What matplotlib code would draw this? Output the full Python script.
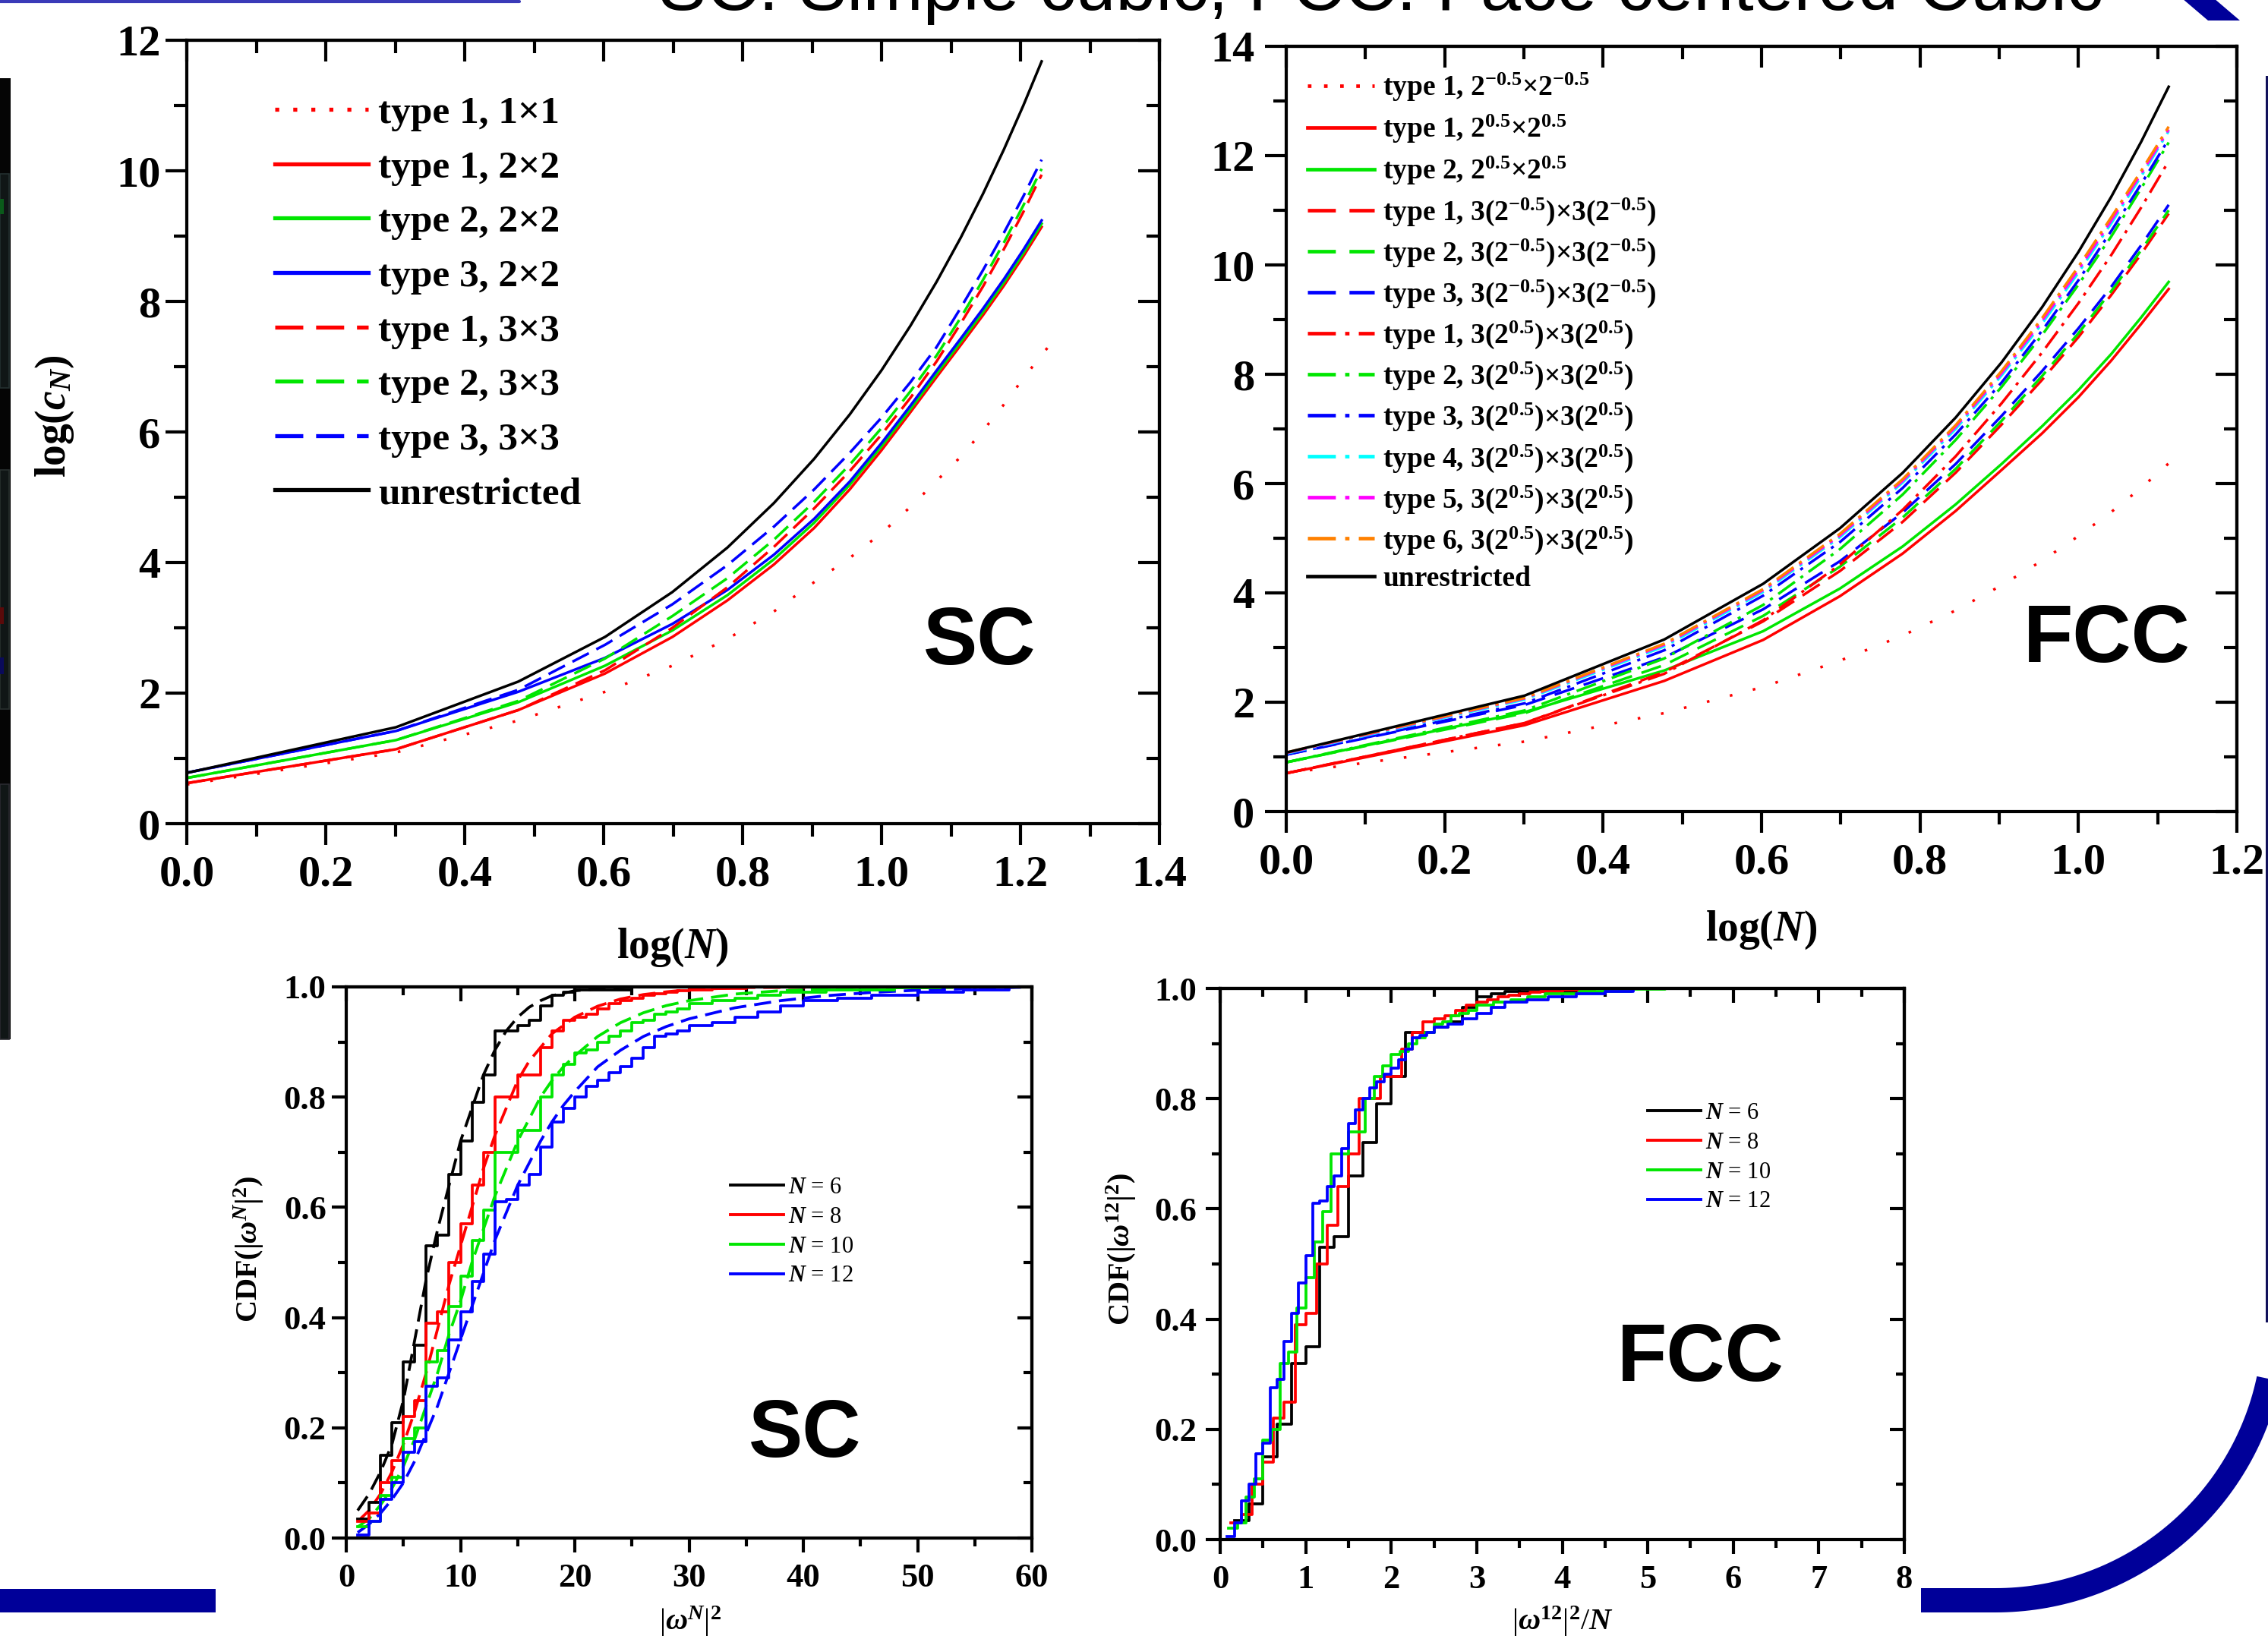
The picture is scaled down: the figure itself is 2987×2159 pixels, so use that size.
import numpy as np
import matplotlib
matplotlib.use("Agg")
import matplotlib.pyplot as plt
from matplotlib.ticker import MultipleLocator, FormatStrFormatter, NullFormatter
from matplotlib.lines import Line2D
from matplotlib.patches import Rectangle, Polygon

# ---------------- data ----------------
# SC: log(c_N) vs log(N)
sc_N = list(range(1, 18))
sc_N_1x1 = list(range(1, 19))
sc_unrestricted = [0.778, 1.477, 2.176, 2.861, 3.548, 4.229, 4.911, 5.589, 6.268, 6.945,
                   7.623, 8.299, 8.975, 9.650, 10.326, 11.001, 11.676]
sc_t1_1x1 = [0.60, 1.09, 1.58, 2.02, 2.42, 2.83, 3.25, 3.70, 4.07, 4.45, 4.85, 5.25, 5.62,
             6.02, 6.42, 6.82, 7.18, 7.50]
sc_t1_2x2 = [0.62, 1.14, 1.74, 2.30, 2.86, 3.42, 3.97, 4.53, 5.12, 5.72, 6.30, 6.84, 7.33,
             7.79, 8.24, 8.69, 9.14]
sc_t2_2x2 = [0.70, 1.28, 1.86, 2.42, 2.96, 3.50, 4.05, 4.61, 5.19, 5.78, 6.35, 6.89, 7.38,
             7.84, 8.29, 8.74, 9.19]
sc_t3_2x2 = [0.78, 1.42, 2.02, 2.54, 3.06, 3.58, 4.12, 4.67, 5.24, 5.83, 6.40, 6.94, 7.43,
             7.89, 8.34, 8.79, 9.24]
sc_t1_3x3 = [0.62, 1.14, 1.74, 2.35, 3.00, 3.62, 4.24, 4.83, 5.40, 5.96, 6.52, 7.08, 7.66,
             8.23, 8.80, 9.37, 9.94]
sc_t2_3x3 = [0.70, 1.28, 1.88, 2.53, 3.18, 3.76, 4.35, 4.93, 5.50, 6.06, 6.62, 7.17, 7.75,
             8.33, 8.90, 9.47, 10.03]
sc_t3_3x3 = [0.78, 1.42, 2.05, 2.74, 3.36, 3.96, 4.55, 5.12, 5.68, 6.22, 6.76, 7.30, 7.90,
             8.48, 9.05, 9.61, 10.17]

# FCC: log(c_N) vs log(N)
fcc_N = list(range(1, 14))
fcc_unrestricted = [1.079, 2.121, 3.147, 4.167, 5.183, 6.197, 7.209, 8.219, 9.229, 10.238,
                    11.246, 12.253, 13.260]
fcc_t1_small = [0.70, 1.28, 1.80, 2.28, 2.76, 3.22, 3.68, 4.14, 4.59, 5.04, 5.48, 5.92, 6.37]
fcc_t1_1 = [0.70, 1.58, 2.39, 3.14, 3.94, 4.72, 5.50, 6.25, 6.92, 7.58, 8.25, 8.92, 9.56]
fcc_t2_1 = [0.90, 1.82, 2.58, 3.30, 4.08, 4.85, 5.62, 6.36, 7.05, 7.71, 8.37, 9.04, 9.69]
fcc_t1_3m = [0.70, 1.62, 2.55, 3.48, 4.40, 5.30, 6.20, 7.08, 7.90, 8.68, 9.45, 10.20, 10.94]
fcc_t2_3m = [0.90, 1.80, 2.68, 3.58, 4.48, 5.38, 6.27, 7.15, 7.97, 8.75, 9.52, 10.27, 11.00]
fcc_t3_3m = [1.04, 1.95, 2.82, 3.70, 4.58, 5.47, 6.36, 7.24, 8.06, 8.84, 9.60, 10.36, 11.10]
fcc_t1_3p = [0.70, 1.62, 2.52, 3.50, 4.52, 5.52, 6.50, 7.47, 8.40, 9.30, 10.18, 11.05, 11.90]
fcc_t2_3p = [0.90, 1.85, 2.80, 3.78, 4.80, 5.80, 6.80, 7.77, 8.72, 9.64, 10.52, 11.40, 12.24]
fcc_t3_3p = [1.04, 1.98, 2.95, 3.95, 4.93, 5.92, 6.90, 7.85, 8.80, 9.72, 10.62, 11.48, 12.30]
fcc_t4_3p = [1.06, 2.05, 3.02, 4.02, 5.02, 6.02, 7.00, 7.98, 8.93, 9.86, 10.76, 11.62, 12.45]
fcc_t5_3p = [1.07, 2.07, 3.05, 4.05, 5.05, 6.05, 7.04, 8.02, 8.98, 9.91, 10.81, 11.67, 12.48]
fcc_t6_3p = [1.08, 2.08, 3.07, 4.07, 5.08, 6.08, 7.07, 8.06, 9.03, 9.97, 10.87, 11.72, 12.53]

# CDF of |omega^N|^2 (empirical, step) for N = 6, 8, 10, 12
cdf_x_N6 = list(range(1, 21)) + [25]
cdf_y_N6 = [0.035, 0.065, 0.15, 0.21, 0.32, 0.35, 0.53, 0.55, 0.66, 0.72, 0.79, 0.84, 0.92,
            0.92, 0.93, 0.94, 0.965, 0.985, 0.99, 0.995, 1.0]
cdf_x_N8 = list(range(1, 31)) + [32, 35]
cdf_y_N8 = [0.03, 0.045, 0.10, 0.14, 0.22, 0.25, 0.39, 0.41, 0.50, 0.57, 0.64, 0.70, 0.80,
            0.80, 0.84, 0.84, 0.89, 0.92, 0.94, 0.945, 0.95, 0.96, 0.97, 0.975, 0.98, 0.985,
            0.988, 0.99, 0.993, 0.995, 0.997, 1.0]
cdf_x_N10 = list(range(1, 31)) + [32, 34, 36, 38, 42, 48, 52]
cdf_y_N10 = [0.02, 0.03, 0.077, 0.11, 0.18, 0.20, 0.32, 0.34, 0.42, 0.475, 0.54, 0.595, 0.70,
             0.70, 0.74, 0.74, 0.80, 0.84, 0.86, 0.88, 0.885, 0.90, 0.91, 0.92, 0.935, 0.94,
             0.95, 0.955, 0.96, 0.97, 0.975, 0.98, 0.985, 0.99, 0.995, 0.998, 1.0]
cdf_x_N12 = list(range(1, 31)) + [32, 34, 36, 38, 40, 43, 46, 50, 54, 58]
cdf_y_N12 = [0.005, 0.03, 0.07, 0.10, 0.155, 0.175, 0.275, 0.29, 0.36, 0.41, 0.465, 0.515,
             0.61, 0.615, 0.64, 0.66, 0.71, 0.755, 0.78, 0.80, 0.82, 0.83, 0.845, 0.855, 0.87,
             0.89, 0.91, 0.915, 0.92, 0.93, 0.935, 0.945, 0.955, 0.965, 0.975, 0.98, 0.985,
             0.99, 0.995, 1.0]

# smooth fitted CDFs (dashed) in SC panel
fit_x_N6 = [1, 2, 3, 4, 5, 6, 7, 8, 9, 10, 11, 12, 13, 14, 15, 16, 17, 18, 20, 23, 26, 60]
fit_y_N6 = [0.05, 0.08, 0.12, 0.17, 0.25, 0.36, 0.47, 0.56, 0.64, 0.72, 0.78, 0.84, 0.885,
            0.92, 0.945, 0.963, 0.975, 0.984, 0.993, 0.998, 1.0, 1.0]
fit_x_N8 = [1, 2, 3, 4, 5, 6, 7, 8, 9, 10, 11, 12, 13, 14, 15, 16, 17, 18, 19, 20, 22, 24,
            26, 28, 30, 35, 60]
fit_y_N8 = [0.03, 0.05, 0.08, 0.12, 0.17, 0.23, 0.30, 0.38, 0.46, 0.53, 0.60, 0.67, 0.73,
            0.78, 0.83, 0.865, 0.89, 0.915, 0.93, 0.945, 0.965, 0.978, 0.986, 0.991, 0.995,
            0.999, 1.0]
fit_x_N10 = [1, 2, 3, 4, 5, 6, 7, 8, 9, 10, 11, 12, 13, 14, 15, 16, 17, 18, 19, 20, 22, 24,
             26, 28, 30, 34, 38, 45, 60]
fit_y_N10 = [0.02, 0.035, 0.06, 0.09, 0.13, 0.18, 0.24, 0.30, 0.37, 0.43, 0.50, 0.56, 0.62,
             0.67, 0.72, 0.76, 0.80, 0.83, 0.855, 0.875, 0.91, 0.935, 0.953, 0.966, 0.975,
             0.987, 0.993, 0.998, 1.0]
fit_x_N12 = [1, 2, 3, 4, 5, 6, 7, 8, 9, 10, 11, 12, 13, 14, 15, 16, 17, 18, 19, 20, 22, 24,
             26, 28, 30, 34, 38, 42, 46, 50, 55, 60]
fit_y_N12 = [0.01, 0.025, 0.045, 0.07, 0.10, 0.14, 0.19, 0.24, 0.30, 0.36, 0.42, 0.48, 0.54,
             0.59, 0.64, 0.68, 0.72, 0.755, 0.785, 0.81, 0.855, 0.885, 0.91, 0.928, 0.942,
             0.962, 0.975, 0.984, 0.99, 0.994, 0.997, 1.0]

N_values = [6, 8, 10, 12]
title_text = "SC: Simple cubic, FCC: Face centered Cubic"

# ---------------- style ----------------
W, H = 2987, 2159
plt.rcParams.update({
    "font.family": ["Liberation Serif", "DejaVu Serif"],
    "font.weight": "bold",
    "mathtext.fontset": "custom",
    "mathtext.rm": "Liberation Serif",
    "mathtext.it": "Liberation Serif:italic",
    "mathtext.bf": "Liberation Serif:bold",
})
if "mathtext.bfit" in plt.rcParams:
    plt.rcParams["mathtext.bfit"] = "Liberation Serif:italic:bold"
BFIT = r"\mathbfit" if "mathtext.bfit" in plt.rcParams else r"\mathit"

RED, GREEN, BLUE = "#ff0000", "#00e600", "#0000ff"
CYAN, MAGENTA, ORANGE = "#00ffff", "#ff00ff", "#ff8000"
NAVY = "#000099"

fig = plt.figure(figsize=(W / 100, H / 100), dpi=100)


def box(l, t, r, b):
    return [l / W, 1 - b / H, (r - l) / W, (b - t) / H]


def fx(px):
    return px / W


def fy(py):
    return 1 - py / H


def setup(ax, xlim, ylim, xmaj, xmin, ymaj, ymin, L, l, w, spw, size, xpad, ypad, xfmt, yfmt):
    ax.set_xlim(*xlim)
    ax.set_ylim(*ylim)
    ax.xaxis.set_major_locator(MultipleLocator(xmaj))
    ax.xaxis.set_minor_locator(MultipleLocator(xmin))
    ax.yaxis.set_major_locator(MultipleLocator(ymaj))
    ax.yaxis.set_minor_locator(MultipleLocator(ymin))
    ax.xaxis.set_major_formatter(FormatStrFormatter(xfmt))
    ax.yaxis.set_major_formatter(FormatStrFormatter(yfmt))
    ax.tick_params(which="major", direction="out", length=L, width=w, labelsize=size,
                   top=False, right=False)
    ax.tick_params(which="minor", direction="out", length=l, width=w, top=False, right=False)
    ax.tick_params(axis="x", which="major", pad=xpad)
    ax.tick_params(axis="y", which="major", pad=ypad)
    for s in ax.spines.values():
        s.set_linewidth(spw)
    sx = ax.secondary_xaxis("top")
    sx.xaxis.set_major_locator(MultipleLocator(xmaj))
    sx.xaxis.set_minor_locator(MultipleLocator(xmin))
    sx.xaxis.set_major_formatter(NullFormatter())
    sx.tick_params(which="major", direction="in", length=L, width=w)
    sx.tick_params(which="minor", direction="in", length=l, width=w)
    sx.spines["top"].set_linewidth(spw)
    sy = ax.secondary_yaxis("right")
    sy.yaxis.set_major_locator(MultipleLocator(ymaj))
    sy.yaxis.set_minor_locator(MultipleLocator(ymin))
    sy.yaxis.set_major_formatter(NullFormatter())
    sy.tick_params(which="major", direction="in", length=L, width=w)
    sy.tick_params(which="minor", direction="in", length=l, width=w)
    sy.spines["right"].set_linewidth(spw)


# ---------------- panel 1: SC log(c_N) ----------------
ax1 = fig.add_axes(box(246, 53, 1527, 1085))
lw1 = 2.5
dash1 = (0, (7.0, 3.2))
dot1 = (0, (1.0, 8.0))
x_sc = np.log10(sc_N)
x_sc1 = np.log10(sc_N_1x1)
sc_series = [
    (x_sc1, sc_t1_1x1, RED, dot1, "type 1, 1×1"),
    (x_sc, sc_t1_2x2, RED, "-", "type 1, 2×2"),
    (x_sc, sc_t2_2x2, GREEN, "-", "type 2, 2×2"),
    (x_sc, sc_t3_2x2, BLUE, "-", "type 3, 2×2"),
    (x_sc, sc_t1_3x3, RED, dash1, "type 1, 3×3"),
    (x_sc, sc_t2_3x3, GREEN, dash1, "type 2, 3×3"),
    (x_sc, sc_t3_3x3, BLUE, dash1, "type 3, 3×3"),
    (x_sc, sc_unrestricted, "black", "-", "unrestricted"),
]
h1 = []
for xv, yv, c, ls, lab in sc_series:
    ax1.plot(xv, yv, color=c, lw=lw1, linestyle=ls, label=lab)
    h1.append(Line2D([], [], color=c, lw=3.8, linestyle=ls if ls != dot1 else (0, (1.0, 3.5))))
setup(ax1, (0, 1.4), (0, 12), 0.2, 0.1, 2, 1, 20, 12, 3, 3, 42, 10, 5, "%.1f", "%d")
ax1.legend(h1, [s[4] for s in sc_series], loc="upper left",
           bbox_to_anchor=(fx(362), fy(126)), bbox_transform=fig.transFigure,
           frameon=False, fontsize=37, handlelength=2.4, handletextpad=0.25,
           labelspacing=0.48, borderpad=0, borderaxespad=0)
fig.text(fx(72), fy(548), r"log($" + BFIT + r"{c}_{N}$)", rotation=90, fontsize=40,
         ha="center", va="center")
fig.text(fx(886), fy(1248), r"log($" + BFIT + r"{N}$)", fontsize=40, ha="center", va="center")

# ---------------- panel 2: FCC log(c_N) ----------------
ax2 = fig.add_axes(box(1694, 61, 2946, 1069))
x_f = np.log10(fcc_N)
dash2 = (0, (7.8, 3.8))
dd2 = (0, (7.8, 2.6, 1.2, 2.6))
m = lambda e: r"$\mathbf{2}^{\mathbf{" + e + r"}}$"
fcc_series = [
    (fcc_t1_small, RED, dot1, "type 1, " + m("-0.5") + "×" + m("-0.5")),
    (fcc_t1_1, RED, "-", "type 1, " + m("0.5") + "×" + m("0.5")),
    (fcc_t2_1, GREEN, "-", "type 2, " + m("0.5") + "×" + m("0.5")),
    (fcc_t1_3m, RED, dash2, "type 1, 3(" + m("-0.5") + ")×3(" + m("-0.5") + ")"),
    (fcc_t2_3m, GREEN, dash2, "type 2, 3(" + m("-0.5") + ")×3(" + m("-0.5") + ")"),
    (fcc_t3_3m, BLUE, dash2, "type 3, 3(" + m("-0.5") + ")×3(" + m("-0.5") + ")"),
    (fcc_t1_3p, RED, dd2, "type 1, 3(" + m("0.5") + ")×3(" + m("0.5") + ")"),
    (fcc_t2_3p, GREEN, dd2, "type 2, 3(" + m("0.5") + ")×3(" + m("0.5") + ")"),
    (fcc_t3_3p, BLUE, dd2, "type 3, 3(" + m("0.5") + ")×3(" + m("0.5") + ")"),
    (fcc_t4_3p, CYAN, dd2, "type 4, 3(" + m("0.5") + ")×3(" + m("0.5") + ")"),
    (fcc_t5_3p, MAGENTA, dd2, "type 5, 3(" + m("0.5") + ")×3(" + m("0.5") + ")"),
    (fcc_t6_3p, ORANGE, dd2, "type 6, 3(" + m("0.5") + ")×3(" + m("0.5") + ")"),
    (fcc_unrestricted, "black", "-", "unrestricted"),
]
h2 = []
for yv, c, ls, lab in fcc_series:
    ax2.plot(x_f, yv, color=c, lw=lw1, linestyle=ls)
    h2.append(Line2D([], [], color=c, lw=3.4, linestyle=ls if ls != dot1 else (0, (1.0, 3.5))))
setup(ax2, (0, 1.2), (0, 14), 0.2, 0.1, 2, 1, 20, 12, 3, 3, 42, 10, 10, "%.1f", "%d")
ax2.legend(h2, [s[3] for s in fcc_series], loc="upper left",
           bbox_to_anchor=(fx(1722), fy(94)), bbox_transform=fig.transFigure,
           frameon=False, fontsize=27, handlelength=2.35, handletextpad=0.3,
           labelspacing=0.34, borderpad=0, borderaxespad=0)
fig.text(fx(2320), fy(1225), r"log($" + BFIT + r"{N}$)", fontsize=40, ha="center", va="center")

# ---------------- panel 3: SC CDF ----------------
ax3 = fig.add_axes(box(456, 1300, 1359, 2026))
cols = ["black", RED, GREEN, BLUE]
steps = [(cdf_x_N6, cdf_y_N6), (cdf_x_N8, cdf_y_N8), (cdf_x_N10, cdf_y_N10),
         (cdf_x_N12, cdf_y_N12)]
fits = [(fit_x_N6, fit_y_N6), (fit_x_N8, fit_y_N8), (fit_x_N10, fit_y_N10),
        (fit_x_N12, fit_y_N12)]
dash3 = (0, (6.0, 2.8))
for (xf, yf), c in zip(fits, cols):
    ax3.plot(xf, yf, color=c, lw=2.7, linestyle=dash3)
for (xs, ys), c in zip(steps, cols):
    ax3.step(list(xs) + [60], list(ys) + [1.0], where="post", color=c, lw=2.7)
setup(ax3, (0, 60), (0, 1.0), 10, 5, 0.2, 0.1, 14, 8, 3, 3, 32, 10, 5, "%d", "%.1f")
h3 = [Line2D([], [], color=c, lw=2.8) for c in cols]
lab3 = [r"$N$ = %d" % n for n in N_values]
ax3.legend(h3, lab3, loc="upper left", bbox_to_anchor=(fx(962), fy(1550)),
           bbox_transform=fig.transFigure, frameon=False,
           prop={"size": 22, "weight": "normal"}, handlelength=2.3, handletextpad=0.2,
           labelspacing=0.32, borderpad=0, borderaxespad=0)
fig.text(fx(328), fy(1645), r"CDF(|$" + BFIT + r"{\omega}^{N}$|$^{2}$)", rotation=90,
         fontsize=29, ha="center", va="center")
fig.text(fx(909), fy(2114), r"|$" + BFIT + r"{\omega}^{N}$|$^{2}$", fontsize=29,
         weight="normal", ha="center", va="top")

# ---------------- panel 4: FCC CDF ----------------
ax4 = fig.add_axes(box(1607, 1302, 2508, 2028))
for (xs, ys), c, n in zip(steps, cols, N_values):
    xx = np.array(list(xs) + [60], dtype=float) / n
    ax4.step(xx, list(ys) + [1.0], where="post", color=c, lw=2.7)
setup(ax4, (0, 8), (0, 1.0), 1, 0.5, 0.2, 0.1, 14, 8, 3, 3, 32, 10, 8, "%d", "%.1f")
ax4.legend(h3, lab3, loc="upper left", bbox_to_anchor=(fx(2170), fy(1452)),
           bbox_transform=fig.transFigure, frameon=False,
           prop={"size": 22, "weight": "normal"}, handlelength=2.3, handletextpad=0.2,
           labelspacing=0.32, borderpad=0, borderaxespad=0)
fig.text(fx(1477), fy(1645), r"CDF(|$" + BFIT + r"{\omega}^{12}$|$^{2}$)", rotation=90,
         fontsize=29, ha="center", va="center")
fig.text(fx(2058), fy(2114), r"|$" + BFIT + r"{\omega}^{12}$|$^{2}$/$N$", fontsize=29,
         weight="normal", ha="center", va="top")

# big panel tags
for (cx, by, s) in [(1290, 875, "SC"), (2775, 872, "FCC"), (1060, 1919, "SC"),
                    (2240, 1819, "FCC")]:
    fig.text(fx(cx), fy(by), s, fontsize=77, family="Liberation Sans", weight="bold",
             ha="center", va="baseline")

# ---------------- slide decorations ----------------
deco = fig.add_axes([0, 0, 1, 1], zorder=20)
deco.set_xlim(0, W)
deco.set_ylim(H, 0)
deco.axis("off")
deco.patch.set_visible(False)
# top-left thin blue rule
deco.plot([0, 684], [1.5, 1.5], color="#3a3ab8", lw=3.0, solid_capstyle="round")
# bottom-left navy bar
deco.add_patch(Rectangle((0, 2093), 284, 31, color=NAVY, lw=0))
# right frame with rounded bottom corner
cxc, cyc, rr = 2628, 1740, 368
th = np.linspace(np.pi / 2, 0, 80)
fx_pts = [2530] + list(cxc + rr * np.cos(th))
fy_pts = [cyc + rr] + list(cyc + rr * np.sin(th))
deco.plot(fx_pts, fy_pts, color=NAVY, lw=32 * 0.72, solid_capstyle="butt")
# visible inner edge of the right vertical frame band
deco.add_patch(Rectangle((2983.5, 100), 4, cyc - 100 + 2, color="#10105a", lw=0))
# top-right fragment
deco.add_patch(Polygon([(2874, -2), (2916, -2), (2950, 27), (2908, 27)], closed=True,
                       color=NAVY, lw=0))
# left dark image strip
deco.add_patch(Rectangle((0, 103), 14, 1266, color="#050505", lw=0))
for (y0, hh, ec) in [(229, 282, "#243030"), (619, 315, "#28302e"), (1033, 336, "#2a2a30")]:
    deco.add_patch(Rectangle((0, y0), 12, hh, facecolor="#101616", edgecolor=ec, lw=1.2))
deco.add_patch(Rectangle((0, 262), 5, 20, color="#0a5a1a", lw=0))
deco.add_patch(Rectangle((0, 800), 5, 22, color="#5a0a0a", lw=0))
deco.add_patch(Rectangle((0, 866), 5, 22, color="#0a0a5a", lw=0))

# title (mostly cut off by the top edge, as in the slide)
t = fig.text(fx(867), fy(13), title_text, fontsize=60, family="Liberation Sans",
             weight="normal", ha="left", va="baseline", color="black")
r = fig.canvas.get_renderer()
wpx = t.get_window_extent(r).width
t.set_fontsize(60 * 1905 / wpx)

fig.savefig("out.png", dpi=100)
